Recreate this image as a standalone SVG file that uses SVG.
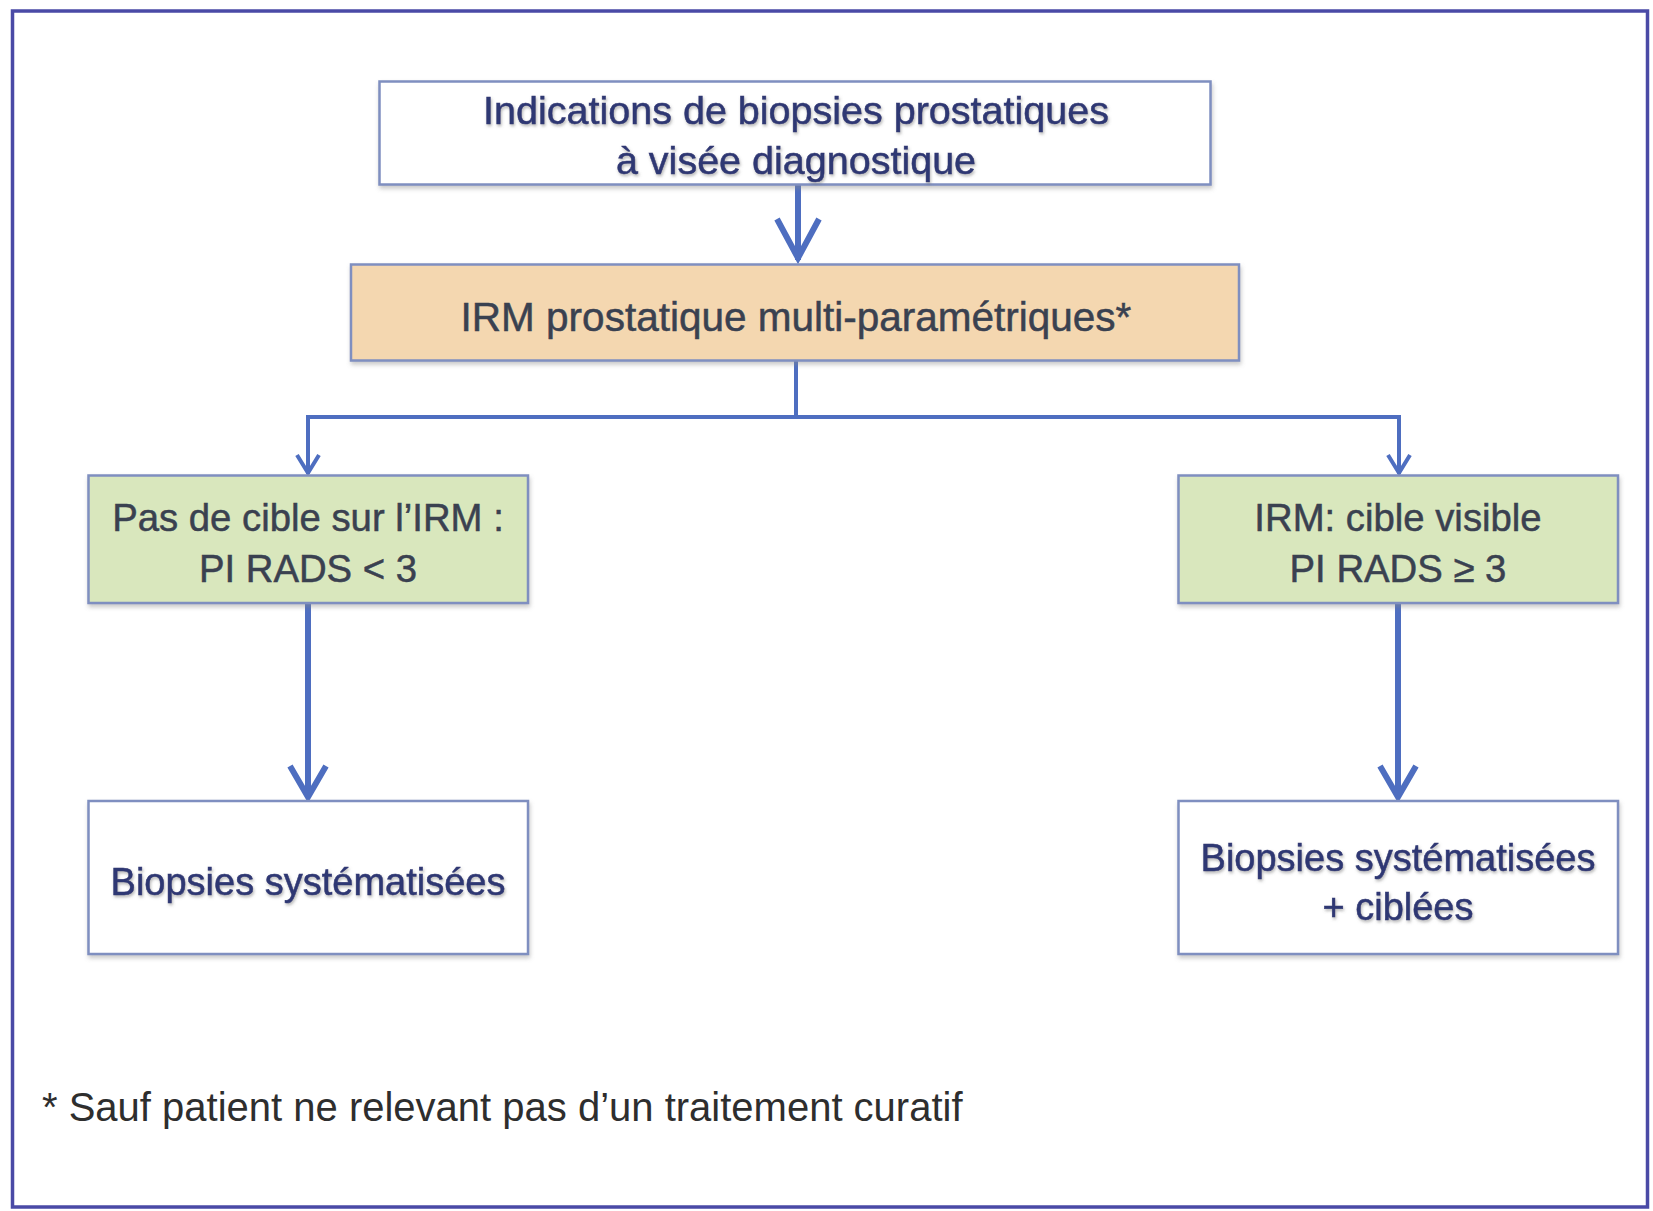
<svg xmlns="http://www.w3.org/2000/svg" width="1653" height="1211" viewBox="0 0 1653 1211">
<defs>
<filter id="sh" x="-5%" y="-10%" width="110%" height="130%">
<feDropShadow dx="1" dy="3" stdDeviation="2" flood-color="#8a8a8a" flood-opacity="0.45"/>
</filter>
<filter id="tsh" x="-5%" y="-20%" width="110%" height="150%">
<feDropShadow dx="1" dy="2" stdDeviation="1.5" flood-color="#6a6a6a" flood-opacity="0.5"/>
</filter>
</defs>
<style>
.box{stroke:#7f8fc0;stroke-width:2.5}
.white{fill:#ffffff}
.peach{fill:#f4d7b0}
.green{fill:#d9e7bd}
text{font-family:"Liberation Sans",Arial,sans-serif;font-size:36px;text-anchor:middle;stroke-width:0.5}
.navy{fill:#2f3773;stroke:#2f3773}
.dark{fill:#3a4150;stroke:#3a4150}
.t1{font-size:39.5px}
.t2{font-size:40.5px}
.t3{font-size:38.3px}
.t4{font-size:38px}
.t5{font-size:40px}
.conn{fill:none;stroke:#4e6ec0;stroke-linecap:butt;stroke-linejoin:miter}
.thick{stroke-width:6}
.thin{stroke-width:4}
</style>
<rect x="0" y="0" width="1653" height="1211" fill="#ffffff"/>
<rect x="12.5" y="11" width="1635" height="1196" fill="none" stroke="#4a4aa6" stroke-width="3.5"/>

<g id="connectors">
<line class="conn thick" x1="798" y1="185" x2="798" y2="260"/>
<polyline class="conn thick" points="777,219 798,258 819,219"/>
<line class="conn thin" x1="796" y1="361" x2="796" y2="417"/>
<polyline class="conn thin" points="308,474 308,417 1399,417 1399,474"/>
<polyline class="conn thin" points="297,455 308,473 319,455"/>
<polyline class="conn thin" points="1388,455 1399,473 1410,455"/>
<line class="conn thick" x1="308" y1="603" x2="308" y2="798"/>
<polyline class="conn thick" points="290,766 308,797 326,766"/>
<line class="conn thick" x1="1398" y1="603" x2="1398" y2="798"/>
<polyline class="conn thick" points="1380,766 1398,797 1416,766"/>
</g>

<g id="node-indications">
<rect class="box white" x="379.5" y="81.5" width="831" height="103" filter="url(#sh)"/>
<text class="navy t1" x="796" y="124" filter="url(#tsh)">Indications de biopsies prostatiques</text>
<text class="navy t1" x="796" y="174" filter="url(#tsh)">à visée diagnostique</text>
</g>

<g id="node-irm">
<rect class="box peach" x="351" y="264.5" width="888" height="96" filter="url(#sh)"/>
<text class="dark t2" x="796" y="331">IRM prostatique multi-paramétriques*</text>
</g>

<g id="node-pas-de-cible">
<rect class="box green" x="88.5" y="475.5" width="439.5" height="127.5" filter="url(#sh)"/>
<text class="dark t3" x="308" y="531">Pas de cible sur l’IRM :</text>
<text class="dark t3" x="308" y="582">PI RADS &lt; 3</text>
</g>

<g id="node-cible-visible">
<rect class="box green" x="1178.5" y="475.5" width="439.5" height="127.5" filter="url(#sh)"/>
<text class="dark t3" x="1398" y="531">IRM: cible visible</text>
<text class="dark t3" x="1398" y="582">PI RADS ≥ 3</text>
</g>

<g id="node-biopsies-syst">
<rect class="box white" x="88.5" y="801" width="439.5" height="153" filter="url(#sh)"/>
<text class="navy t4" x="308" y="895" filter="url(#tsh)">Biopsies systématisées</text>
</g>

<g id="node-biopsies-syst-ciblees">
<rect class="box white" x="1178.5" y="801" width="439.5" height="153" filter="url(#sh)"/>
<text class="navy t4" x="1398" y="871" filter="url(#tsh)">Biopsies systématisées</text>
<text class="navy t4" x="1398" y="920" filter="url(#tsh)">+ ciblées</text>
</g>

<g id="footnote">
<text class="t5" x="42" y="1121" style="text-anchor:start;fill:#2e2e2e">* Sauf patient ne relevant pas d’un traitement curatif</text>
</g>
</svg>
